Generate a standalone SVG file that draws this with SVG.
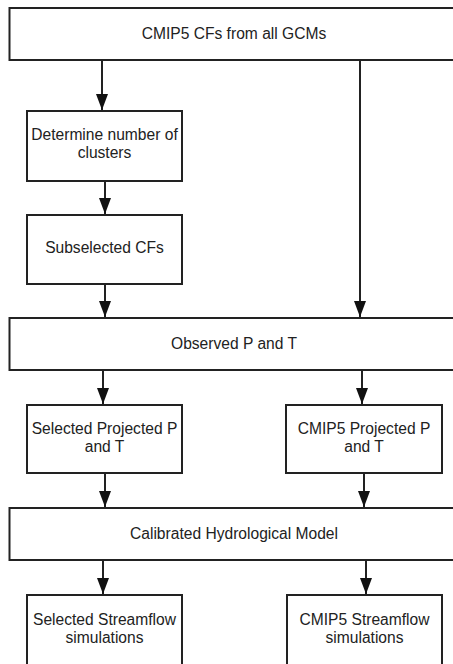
<svg xmlns="http://www.w3.org/2000/svg" width="453" height="664" viewBox="0 0 453 664">
<style>
.box{fill:#fff;stroke:#222;stroke-width:2}
.lbl{font-family:"Liberation Sans",Arial,sans-serif;font-size:15.6px;fill:#222;text-anchor:middle}
.con{stroke:#222;stroke-width:2;fill:none}
</style>
<defs>
<marker id="arr" markerUnits="userSpaceOnUse" markerWidth="16" markerHeight="12" viewBox="0 0 16 12" refX="16" refY="6" orient="auto">
<path d="M0,0 L16,6 L0,12 Z" fill="#111"/>
</marker>
</defs>
<rect width="453" height="664" fill="#fff"/>
<g id="n1">
<rect class="box" x="9.5" y="8" width="450" height="52"/>
<text class="lbl" x="234" y="38.5">CMIP5 CFs from all GCMs</text>
</g>
<g id="n2">
<rect class="box" x="27" y="111" width="155" height="70"/>
<text class="lbl" x="104.5" y="140">Determine number of</text>
<text class="lbl" x="104.5" y="158">clusters</text>
</g>
<g id="n3">
<rect class="box" x="27" y="215" width="155" height="69"/>
<text class="lbl" x="104.5" y="252.5">Subselected CFs</text>
</g>
<g id="n4">
<rect class="box" x="9.5" y="318" width="450" height="52"/>
<text class="lbl" x="234" y="348.5">Observed P and T</text>
</g>
<g id="n5">
<rect class="box" x="27" y="405" width="155" height="68"/>
<text class="lbl" x="104.5" y="433.5">Selected Projected P</text>
<text class="lbl" x="104.5" y="452">and T</text>
</g>
<g id="n6">
<rect class="box" x="286" y="405" width="156" height="68"/>
<text class="lbl" x="364" y="433.5">CMIP5 Projected P</text>
<text class="lbl" x="364" y="452">and T</text>
</g>
<g id="n7">
<rect class="box" x="9.5" y="508" width="450" height="52"/>
<text class="lbl" x="234" y="538.5">Calibrated Hydrological Model</text>
</g>
<g id="n8">
<rect class="box" x="27" y="595" width="155" height="80"/>
<text class="lbl" x="104.5" y="624.5">Selected Streamflow</text>
<text class="lbl" x="104.5" y="642.5">simulations</text>
</g>
<g id="n9">
<rect class="box" x="287" y="595" width="155" height="80"/>
<text class="lbl" x="364.5" y="624.5">CMIP5 Streamflow</text>
<text class="lbl" x="364.5" y="642.5">simulations</text>
</g>
<g id="connectors">
<path class="con" d="M102,60 V110" marker-end="url(#arr)"/>
<path class="con" d="M105,181 V214" marker-end="url(#arr)"/>
<path class="con" d="M105,284 V317" marker-end="url(#arr)"/>
<path class="con" d="M360,60 V317" marker-end="url(#arr)"/>
<path class="con" d="M103,370 V404" marker-end="url(#arr)"/>
<path class="con" d="M362,370 V404" marker-end="url(#arr)"/>
<path class="con" d="M105,473 V507" marker-end="url(#arr)"/>
<path class="con" d="M364,473 V507" marker-end="url(#arr)"/>
<path class="con" d="M103,560 V594" marker-end="url(#arr)"/>
<path class="con" d="M366,560 V594" marker-end="url(#arr)"/>
</g>
</svg>
